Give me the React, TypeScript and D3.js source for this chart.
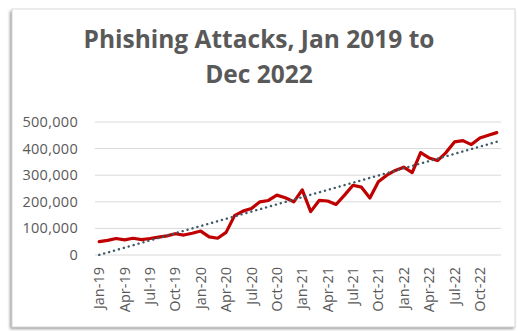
import React from "react";
import * as d3 from "d3";

const months: string[] = (() => {
  const m = ["Jan", "Feb", "Mar", "Apr", "May", "Jun", "Jul", "Aug", "Sep", "Oct", "Nov", "Dec"];
  const out: string[] = [];
  ["19", "20", "21", "22"].forEach((y) => m.forEach((mm) => out.push(`${mm}-${y}`)));
  return out;
})();

const attacks: number[] = [
  50000, 55000, 62000, 57000, 63000, 58000, 62000, 67000, 72000, 80000, 75000, 82000,
  90000, 68000, 63000, 85000, 148000, 165000, 175000, 200000, 205000, 225000, 215000, 200000,
  245000, 163000, 205000, 203000, 190000, 225000, 262000, 255000, 214000, 275000, 300000, 318000,
  330000, 310000, 385000, 365000, 355000, 385000, 425000, 430000, 415000, 440000, 450000, 460000,
];

const yTicks: number[] = [0, 100000, 200000, 300000, 400000, 500000];
const titleLines: string[] = ["Phishing Attacks, Jan 2019 to", "Dec 2022"];

export default function App() {
  const W = 518, H = 331;
  const left = 95, right = 501, top = 122, bottom = 255;

  const x = d3.scaleBand<string>().domain(months).range([left, right]).paddingInner(0).paddingOuter(0);
  const cx = (m: string) => (x(m) as number) + x.bandwidth() / 2;
  const y = d3.scaleLinear().domain([0, 500000]).range([bottom, top]);

  const line = d3.line<number>().x((_, i) => cx(months[i])).y((d) => y(d)).curve(d3.curveLinear);

  // Linear trendline (least squares over month index)
  const n = attacks.length;
  const xs = d3.range(n);
  const mx = d3.mean(xs) as number;
  const my = d3.mean(attacks) as number;
  const slope = d3.sum(xs, (i) => (i - mx) * (attacks[i] - my)) / d3.sum(xs, (i) => (i - mx) ** 2);
  const intercept = my - slope * mx;
  const trend = [0, n - 1].map((i) => ({ x: cx(months[i]), y: y(intercept + slope * i) }));

  const fmt = d3.format(",");
  const font = "'Open Sans', Lato, sans-serif";

  return (
    <svg width={W} height={H} style={{ position: "absolute", left: 0, top: 0, background: "#fff" }}>
      <defs>
        <filter id="sh" x="-5%" y="-5%" width="110%" height="110%">
          <feGaussianBlur stdDeviation="1.5" />
        </filter>
      </defs>
      <rect x={10} y={11} width={504} height={318} fill="#9a9a9a" filter="url(#sh)" />
      <rect x={12} y={9} width={503} height={318} fill="#fff" stroke="#d9d9d9" strokeWidth={1} />

      {titleLines.map((t, i) => (
        <text key={i} x={259} y={48 + i * 35} textAnchor="middle" fontFamily={font} fontWeight={700}
          fontSize={24.5} fill="#595959">{t}</text>
      ))}

      {yTicks.map((t) => (
        <g key={t}>
          <line x1={left} x2={right} y1={y(t)} y2={y(t)} stroke="#d9d9d9" strokeWidth={1} />
          <text x={78} y={y(t)} dy="0.35em" textAnchor="end" fontFamily={font} fontSize={14.5}
            letterSpacing={0.3} fill="#595959">
            {t === 0 ? "0" : fmt(t)}
          </text>
        </g>
      ))}

      {months.map((m, i) =>
        i % 3 === 0 ? (
          <text key={m} transform={`translate(${cx(m)},${267}) rotate(-90)`} dy="0.35em" textAnchor="end"
            fontFamily={font} fontSize={14.5} fill="#595959">{m}</text>
        ) : null
      )}

      <path d={line(attacks) as string} fill="none" stroke="#c00000" strokeWidth={3.2}
        strokeLinejoin="round" strokeLinecap="round" />

      <line x1={trend[0].x} y1={trend[0].y} x2={trend[1].x} y2={trend[1].y} stroke="#3f5a66"
        strokeWidth={2.4} strokeDasharray="0.1,5" strokeLinecap="round" />
    </svg>
  );
}
